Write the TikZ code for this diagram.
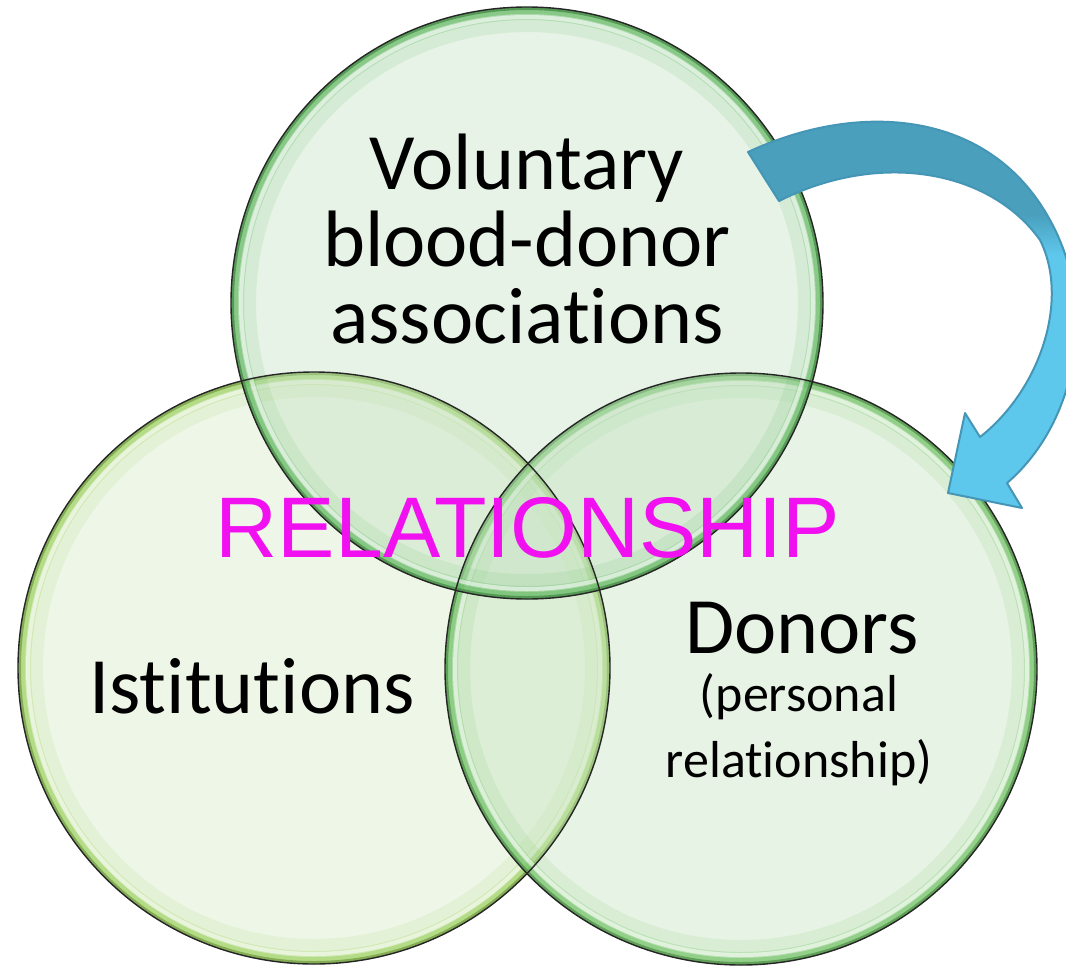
\documentclass[tikz,border=0pt]{standalone}
\usepackage{fontspec}
\setmainfont{Carlito}[RawFeature={-liga}]
\newfontfamily\relfont{Liberation Sans}
\definecolor{topfill}{RGB}{192,224,192}
\definecolor{leftfill}{RGB}{212,232,195}
\definecolor{rightfill}{RGB}{195,226,189}
\definecolor{toprim}{RGB}{93,184,93}
\definecolor{leftrim}{RGB}{155,209,90}
\definecolor{rightrim}{RGB}{108,192,96}
\definecolor{arrowdark}{RGB}{74,159,189}
\definecolor{arrowlight}{RGB}{94,200,236}
\definecolor{arrowline}{RGB}{69,150,182}
\definecolor{relmagenta}{RGB}{240,16,240}
\pgfdeclareverticalshading{arrowshade}{100bp}{color(0bp)=(arrowlight); color(56bp)=(arrowlight); color(61bp)=(arrowdark); color(100bp)=(arrowdark)}
\newcommand\circR{296pt}
\newcommand\glassdisk[3]{%
  \fill[#2, fill opacity=0.40] (#1) circle[radius=\circR];
  \begin{scope}
    \clip (#1) circle[radius=\circR];
    \draw[#3, opacity=0.12, line width=50pt] (#1) circle[radius=\circR];
    \draw[#3, opacity=0.28, line width=26pt] (#1) circle[radius=\circR];
    \draw[#3, opacity=0.5, line width=14pt] (#1) circle[radius=\circR];
    \draw[#3!75!black, opacity=0.75, line width=6pt] (#1) circle[radius=\circR];
    \draw[white, opacity=0.55, line width=4pt] (#1) circle[radius=\circR-10pt];
  \end{scope}}
\tikzset{
  lbl/.style={inner sep=0pt, align=center, text=black},
  bigtxt/.style={font=\fontsize{80}{77}\selectfont},
  smalltxt/.style={font=\fontsize{52}{66}\selectfont},
  reltxt/.style={font=\relfont\fontsize{86}{86}\selectfont, text=relmagenta, inner sep=0pt},
  rimline/.style={draw=black!85, line width=1.4pt},
  arrowbody/.style={shading=arrowshade, draw=arrowline, line width=2pt, line join=round}
}
\begin{document}
\begin{tikzpicture}[x=1pt,y=-1pt]
\useasboundingbox (0,0) rectangle (1066,967);
\clip (0,0) rectangle (1066,967);
\coordinate (ct) at (527,303);
\coordinate (cl) at (314,668);
\coordinate (cr) at (741,669);
\glassdisk{cl}{leftfill}{leftrim}
\glassdisk{cr}{rightfill}{rightrim}
\glassdisk{ct}{topfill}{toprim}
\draw[rimline] (cl) circle[radius=\circR];
\draw[rimline] (cr) circle[radius=\circR];
\draw[rimline] (ct) circle[radius=\circR];
% curved arrow
\shade[arrowbody]
 (748,152) .. controls (860,100) and (990,110) .. (1050,220)
 .. controls (1100,310) and (1075,425) .. (1007,483)
 -- (1022,508) -- (948,493) -- (965,413) -- (980,437)
 .. controls (1040,390) and (1070,300) .. (1040,240)
 .. controls (990,170) and (880,150) .. (779,201) -- cycle;
\node[lbl, bigtxt, anchor=base] (assoc) at (527,343) {Voluntary\\blood-donor\\associations};
\node[lbl, bigtxt, anchor=base] (inst) at (252,713) {Istitutions};
\node[lbl, bigtxt, anchor=base] (donors) at (802,653) {Donors};
\node[lbl, smalltxt, anchor=base] (pers) at (799,777) {(personal\\relationship)};
\node[reltxt, anchor=base] (rel) at (528,557) {RELATIONSHIP};
\end{tikzpicture}
\end{document}
